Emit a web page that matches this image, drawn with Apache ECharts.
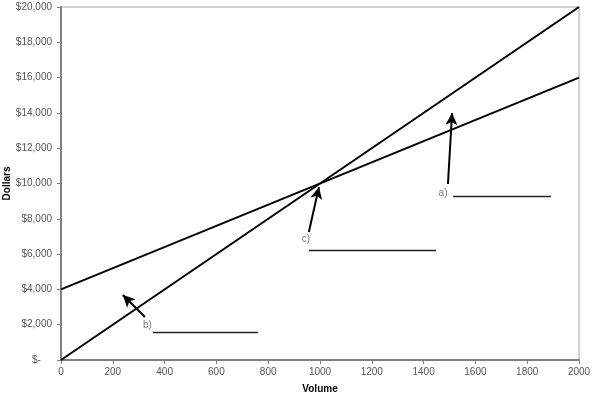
<!DOCTYPE html>
<html><head><meta charset="utf-8">
<script src="https://cdn.jsdelivr.net/npm/echarts@6/dist/echarts.min.js"></script>
<style>html,body{margin:0;padding:0;background:#fff}#c{width:593px;height:398px}</style>
</head><body><div id="c"></div>
<script>
const volume = [0, 2000];
const totalCost = [4000, 16000];
const totalRevenue = [0, 20000];
const xTicks = [0,200,400,600,800,1000,1200,1400,1600,1800,2000];
// annotation arrows: [tailX, tailY, tipX, tipY]
const arrows = [[1494, 9972, 1510, 13994],[957, 7252, 996, 9802],[324, 2436, 239, 3683]];
// blank answer lines: [x1, x2, y]
const blanks = [[1514, 1892, 9292],[957, 1448, 6232],[355, 761, 1586]];
const labels = [[1475, 9462, 'a)'],[946, 6856, 'c)'],[334, 1983, 'b)']];

const chart = echarts.init(document.getElementById('c'));
const font = 'Liberation Sans, Arial, sans-serif';
const markData = [];
arrows.forEach(a => markData.push([{coord:[a[0],a[1]], symbol:'none'},{coord:[a[2],a[3]], symbol:'arrow', symbolSize:[9,12]}]));
blanks.forEach(b => markData.push([{coord:[b[0],b[2]], symbol:'none'},{coord:[b[1],b[2]], symbol:'none'}]));
chart.setOption({
  animation:false,
  grid:{left:61,right:14,top:7,bottom:38,show:true,borderColor:'#a0a0a0',borderWidth:1,outerBoundsMode:'none',containLabel:false},
  xAxis:{type:'value',min:0,max:2000,interval:200,
    name:'Volume',nameLocation:'middle',nameGap:24,nameMoveOverlap:false,
    nameTextStyle:{fontFamily:font,fontSize:10,fontWeight:'bold',color:'#000'},
    axisLine:{lineStyle:{color:'#808080',width:2}},
    axisTick:{lineStyle:{color:'#808080'},length:4},
    axisLabel:{fontFamily:font,fontSize:10,color:'#555',margin:7,formatter:v=>String(v)},
    splitLine:{show:false}},
  yAxis:{type:'value',min:0,max:20000,interval:2000,
    name:'Dollars',nameLocation:'middle',nameGap:49,nameMoveOverlap:false,
    nameTextStyle:{fontFamily:font,fontSize:10,fontWeight:'bold',color:'#000'},
    axisLine:{show:true,lineStyle:{color:'#808080',width:2}},
    axisTick:{show:true,lineStyle:{color:'#808080'},length:4},
    axisLabel:{fontFamily:font,fontSize:10,color:'#555',margin:9,
      formatter:v=> v===0 ? '$-    ' : '$'+v.toLocaleString('en-US')},
    splitLine:{show:false}},
  series:[
    {type:'line',data:volume.map((v,i)=>[v,totalCost[i]]),showSymbol:false,lineStyle:{color:'#000',width:2},silent:true},
    {type:'line',data:volume.map((v,i)=>[v,totalRevenue[i]]),showSymbol:false,lineStyle:{color:'#000',width:2},silent:true,
      markLine:{silent:true,animation:false,label:{show:false},lineStyle:{color:'#000',width:2,type:'solid'},
        emphasis:{disabled:true},data:markData.slice(0,3)}},
    {type:'line',data:[],markLine:{silent:true,animation:false,label:{show:false},lineStyle:{color:'#222',width:1.3,type:'solid'},
        emphasis:{disabled:true},data:markData.slice(3)}},
    {type:'scatter',symbolSize:0,data:labels.map(l=>({value:[l[0],l[1]],name:l[2]})),
      label:{show:true,position:'inside',formatter:p=>p.name,fontFamily:font,fontSize:10,color:'#555'},silent:true}
  ]
});
</script></body></html>
